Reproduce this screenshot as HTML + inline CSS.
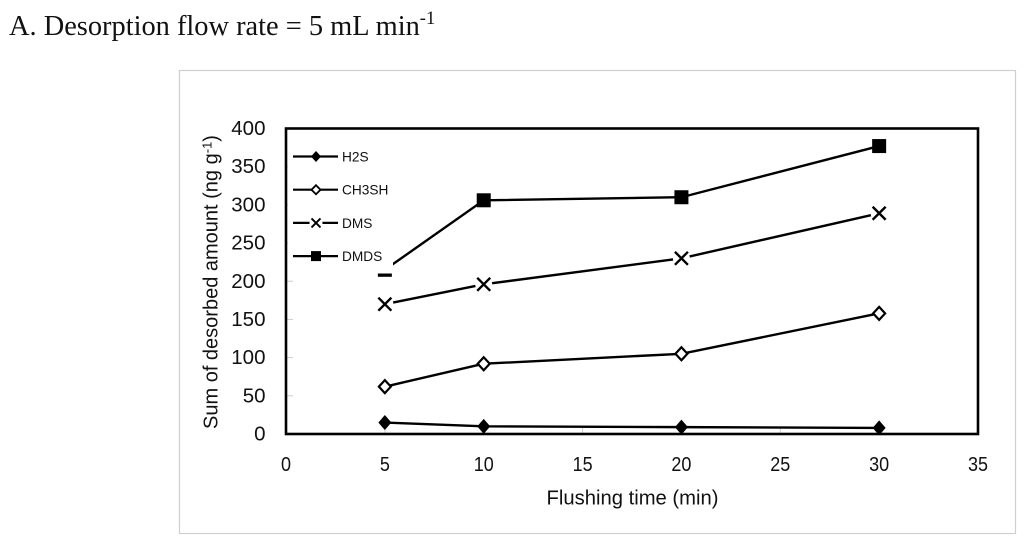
<!DOCTYPE html>
<html>
<head>
<meta charset="utf-8">
<title>Desorption flow rate chart</title>
<style>
html,body{margin:0;padding:0;background:#fff;width:1024px;height:543px;overflow:hidden}
svg{display:block}
text{font-family:"Liberation Sans",sans-serif;fill:#111}
</style>
</head>
<body>
<svg id="chart" xmlns="http://www.w3.org/2000/svg" width="1024" height="543" viewBox="0 0 1024 543">
<text x="9" y="35" style="font-family:'Liberation Serif',serif;font-size:28.4px">A. Desorption flow rate = 5 mL min<tspan dy="-11" font-size="18.5">-1</tspan></text>
<rect x="179.5" y="70.5" width="836" height="463" fill="#fff" stroke="#d0d0d0" stroke-width="1.2"/>
<text transform="translate(217.5,282) rotate(-90)" text-anchor="middle" font-size="20">Sum of desorbed amount (ng g<tspan dy="-6" font-size="13">-1</tspan><tspan dy="6">)</tspan></text>
<text x="632.5" y="504.5" text-anchor="middle" font-size="20" textLength="172" lengthAdjust="spacingAndGlyphs">Flushing time (min)</text>
</svg>
<script>
const xTicks = [0, 5, 10, 15, 20, 25, 30, 35];
const yTicks = [0, 50, 100, 150, 200, 250, 300, 350, 400];
const flushingTimes = [5, 10, 20, 30];
const h2sValues = [15, 10, 9, 8];
const ch3shValues = [62, 92, 105, 158];
const dmsValues = [170, 196, 230, 289];
const dmdsValues = [215, 306, 310, 377];

const svg = document.getElementById('chart');
const NS = 'http://www.w3.org/2000/svg';
const plot = {left: 286, right: 978, top: 128.5, bottom: 434};
const xScale = v => plot.left + (v / 35) * (plot.right - plot.left);
const yScale = v => plot.bottom - (v / 400) * (plot.bottom - plot.top);

function make(tag, attrs, parent) {
  const el = document.createElementNS(NS, tag);
  for (const k in attrs) el.setAttribute(k, attrs[k]);
  (parent || svg).appendChild(el);
  return el;
}

function drawMarker(kind, x, y, parent) {
  if (kind === 'solid-diamond') {
    make('path', {d: `M${x} ${y-7.5}L${x+6.5} ${y}L${x} ${y+7.5}L${x-6.5} ${y}Z`, fill: '#000'}, parent);
  } else if (kind === 'open-diamond') {
    make('path', {d: `M${x} ${y-6.5}L${x+6} ${y}L${x} ${y+6.5}L${x-6} ${y}Z`, fill: '#fff', stroke: '#000', 'stroke-width': 2.2}, parent);
  } else if (kind === 'cross') {
    make('circle', {cx: x, cy: y, r: 8.5, fill: '#fff'}, parent);
    make('path', {d: `M${x-6.5} ${y-6.5}L${x+6.5} ${y+6.5}M${x+6.5} ${y-6.5}L${x-6.5} ${y+6.5}`, fill: 'none', stroke: '#000', 'stroke-width': 2.4}, parent);
  } else {
    make('rect', {x: x-7, y: y-7, width: 14, height: 14, fill: '#000'}, parent);
  }
}

function drawLegendMarker(kind, x, y, parent) {
  if (kind === 'solid-diamond') {
    make('path', {d: `M${x} ${y-5.5}L${x+5} ${y}L${x} ${y+5.5}L${x-5} ${y}Z`, fill: '#000'}, parent);
  } else if (kind === 'open-diamond') {
    make('path', {d: `M${x} ${y-4.5}L${x+4.5} ${y}L${x} ${y+4.5}L${x-4.5} ${y}Z`, fill: '#fff', stroke: '#000', 'stroke-width': 1.8}, parent);
  } else if (kind === 'cross') {
    make('circle', {cx: x, cy: y, r: 6.5, fill: '#fff'}, parent);
    make('path', {d: `M${x-4.5} ${y-4.5}L${x+4.5} ${y+4.5}M${x+4.5} ${y-4.5}L${x-4.5} ${y+4.5}`, fill: 'none', stroke: '#000', 'stroke-width': 1.9}, parent);
  } else {
    make('rect', {x: x-5, y: y-5, width: 10, height: 10, fill: '#000'}, parent);
  }
}

const ticksGroup = make('g', {});


yTicks.forEach(v => {
  const t = make('text', {x: 265.5, y: yScale(v) + 6.5, 'text-anchor': 'end', 'font-size': 20.5}, ticksGroup);
  t.textContent = v;
  
  
  const m = make('line', {x1: plot.left, x2: plot.left + 7, y1: yScale(v), y2: yScale(v), stroke: '#ccc', 'stroke-width': 1}, ticksGroup);
  
  
});
xTicks.forEach(v => {
  const t = make('text', {transform: `translate(${xScale(v)},471) scale(0.9,1)`, 'text-anchor': 'middle', 'font-size': 20}, ticksGroup);
  t.textContent = v;
  
  
  const m = make('line', {x1: xScale(v), x2: xScale(v), y1: plot.bottom, y2: plot.bottom - 7, stroke: '#ccc', 'stroke-width': 1}, ticksGroup);
  
  
});

const seriesList = [
  {name: 'H2S', values: h2sValues, marker: 'solid-diamond', slug: 'h2s'},
  {name: 'CH3SH', values: ch3shValues, marker: 'open-diamond', slug: 'ch3sh'},
  {name: 'DMS', values: dmsValues, marker: 'cross', slug: 'dms'},
  {name: 'DMDS', values: dmdsValues, marker: 'square', slug: 'dmds'}
];

seriesList.forEach(s => {
  const g = make('g', {});
  
  
  const pts = s.values.map((v, i) => xScale(flushingTimes[i]) + ',' + yScale(v)).join(' ');
  const line = make('polyline', {points: pts, fill: 'none', stroke: '#000', 'stroke-width': 2.4}, g);
  
  
  s.values.forEach((v, i) => {
    drawMarker(s.marker, xScale(flushingTimes[i]), yScale(v), g);
  });
});

const legend = make('g', {});


make('rect', {x: 288, y: 130, width: 105, height: 143.5, fill: '#fff'}, legend);
seriesList.forEach((s, i) => {
  const y = 156.5 + i * 33.2;
  const entry = make('g', {}, legend);
  
  
  make('line', {x1: 293, x2: 338, y1: y, y2: y, stroke: '#000', 'stroke-width': 2.2}, entry);
  drawLegendMarker(s.marker, 316, y, entry);
  const t = make('text', {x: 342, y: y + 5, 'font-size': 13.7}, entry);
  t.textContent = s.name;
});

const frame = make('rect', {x: plot.left, y: plot.top, width: plot.right - plot.left, height: plot.bottom - plot.top, fill: 'none', stroke: '#000', 'stroke-width': 2.6});


</script>
</body>
</html>
